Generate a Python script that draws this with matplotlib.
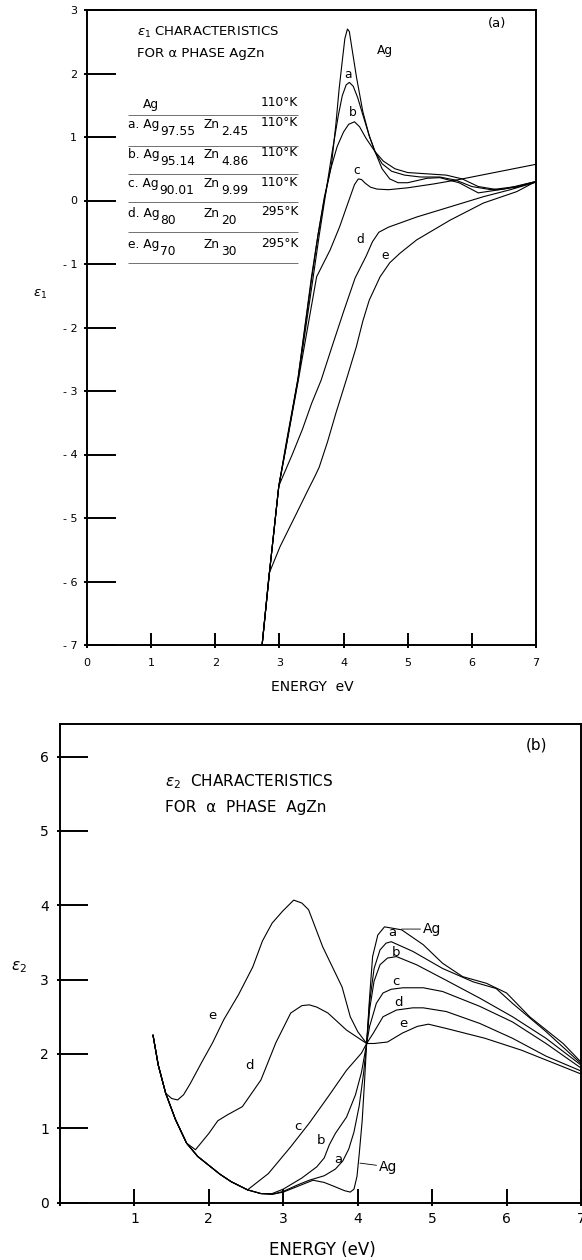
import matplotlib
matplotlib.use("Agg")
import matplotlib.pyplot as plt
from matplotlib.ticker import FixedLocator

plt.rcParams["font.family"] = ["DejaVu Sans"]
plt.rcParams["mathtext.fontset"] = "dejavusans"

# ---- panel (a): epsilon_1 vs energy (eV) ----
e1_ag_x = [2.73, 2.84, 2.99, 3.10, 3.29, 3.50, 3.60, 3.70, 3.81, 3.88, 3.93, 3.98, 4.02, 4.06,
           4.09, 4.13, 4.20, 4.30, 4.40, 4.49, 4.60, 4.72, 4.85, 5.00, 5.30, 5.50, 5.80, 6.10, 6.50, 7.00]
e1_ag_y = [-7.0, -5.9, -4.5, -3.9, -2.8, -1.25, -0.55, 0.05, 0.55, 1.2, 1.75, 2.2, 2.55, 2.70,
           2.66, 2.40, 1.95, 1.40, 1.02, 0.77, 0.50, 0.34, 0.28, 0.28, 0.35, 0.36, 0.28, 0.12, 0.18, 0.30]

e1_a_x = [2.73, 2.84, 2.99, 3.10, 3.29, 3.52, 3.62, 3.72, 3.82, 3.92, 3.98, 4.04, 4.09, 4.15,
          4.22, 4.30, 4.40, 4.49, 4.60, 4.75, 4.95, 5.20, 5.50, 5.75, 6.00, 6.30, 6.70, 7.00]
e1_a_y = [-7.0, -5.9, -4.5, -3.88, -2.83, -1.25, -0.55, 0.10, 0.75, 1.35, 1.65, 1.82, 1.86, 1.80,
          1.62, 1.35, 1.02, 0.77, 0.58, 0.46, 0.40, 0.37, 0.37, 0.32, 0.22, 0.17, 0.22, 0.30]

e1_b_x = [2.73, 2.84, 2.99, 3.10, 3.29, 3.50, 3.60, 3.70, 3.80, 3.90, 4.00, 4.08, 4.17, 4.25,
          4.35, 4.49, 4.62, 4.80, 5.00, 5.30, 5.60, 5.85, 6.10, 6.40, 6.70, 7.00]
e1_b_y = [-7.0, -5.9, -4.5, -3.85, -2.8, -1.2, -0.55, 0.02, 0.5, 0.85, 1.08, 1.20, 1.24, 1.16,
          0.98, 0.77, 0.62, 0.50, 0.44, 0.42, 0.40, 0.34, 0.22, 0.17, 0.21, 0.29]

e1_c_x = [2.73, 2.84, 2.99, 3.11, 3.30, 3.58, 3.79, 3.94, 4.03, 4.10, 4.17, 4.23, 4.28, 4.34,
          4.42, 4.52, 4.70, 5.00, 5.40, 5.80, 6.20, 6.60, 7.00]
e1_c_y = [-7.0, -5.9, -4.5, -3.85, -2.8, -1.2, -0.78, -0.41, -0.15, 0.05, 0.25, 0.34, 0.33, 0.27,
          0.21, 0.18, 0.17, 0.20, 0.26, 0.33, 0.41, 0.49, 0.57]

e1_d_x = [2.73, 2.84, 2.99, 3.03, 3.20, 3.36, 3.50, 3.65, 3.82, 4.00, 4.18, 4.35, 4.45, 4.55,
          4.70, 5.14, 5.66, 6.18, 6.60, 7.00]
e1_d_y = [-7.0, -5.9, -4.5, -4.4, -4.0, -3.6, -3.2, -2.83, -2.3, -1.75, -1.22, -0.88, -0.65, -0.50,
          -0.42, -0.26, -0.10, 0.06, 0.17, 0.29]

e1_e_x = [2.73, 2.84, 3.01, 3.27, 3.45, 3.55, 3.62, 3.75, 3.88, 4.05, 4.20, 4.30, 4.40, 4.57,
          4.72, 4.88, 5.14, 5.66, 6.18, 6.70, 7.00]
e1_e_y = [-7.0, -5.87, -5.45, -4.92, -4.55, -4.35, -4.2, -3.8, -3.35, -2.8, -2.30, -1.9, -1.57, -1.2,
          -0.98, -0.83, -0.62, -0.31, -0.04, 0.14, 0.30]

# ---- panel (b): epsilon_2 vs energy (eV) ----
drude_x = [1.25, 1.32, 1.42, 1.55, 1.70, 1.85, 2.00, 2.15, 2.30, 2.52]
drude_y = [2.25, 1.85, 1.47, 1.12, 0.80, 0.62, 0.50, 0.38, 0.28, 0.17]

e2_ag_x = drude_x + [2.70, 2.85, 3.00, 3.20, 3.40, 3.55, 3.70, 3.82, 3.90, 3.95, 3.99, 4.02, 4.06,
                     4.09, 4.12, 4.16, 4.20, 4.27, 4.36, 4.59, 4.88, 5.14, 5.41, 5.73, 6.00, 6.31,
                     6.76, 7.00]
e2_ag_y = drude_y + [0.12, 0.11, 0.14, 0.22, 0.30, 0.27, 0.21, 0.16, 0.14, 0.18, 0.35, 0.65, 1.10,
                     1.60, 2.14, 2.77, 3.31, 3.60, 3.71, 3.67, 3.47, 3.22, 3.04, 2.95, 2.82, 2.50,
                     2.14, 1.89]

e2_a_x = drude_x + [2.70, 2.85, 3.00, 3.20, 3.35, 3.55, 3.70, 3.80, 3.88, 3.95, 4.02, 4.08, 4.12,
                    4.16, 4.22, 4.30, 4.38, 4.45, 4.74, 5.14, 5.55, 5.86, 6.08, 6.53, 7.00]
e2_a_y = drude_y + [0.12, 0.11, 0.15, 0.24, 0.30, 0.36, 0.45, 0.56, 0.72, 0.95, 1.30, 1.75, 2.14,
                    2.70, 3.15, 3.40, 3.49, 3.51, 3.38, 3.15, 2.97, 2.88, 2.68, 2.30, 1.87]

e2_b_x = drude_x + [2.70, 2.85, 3.00, 3.25, 3.45, 3.55, 3.62, 3.70, 3.85, 3.97, 4.05, 4.12, 4.16,
                    4.22, 4.30, 4.40, 4.52, 4.79, 5.19, 5.64, 6.08, 6.53, 7.00]
e2_b_y = drude_y + [0.12, 0.12, 0.18, 0.33, 0.48, 0.60, 0.78, 0.93, 1.15, 1.45, 1.75, 2.14, 2.60,
                    2.98, 3.20, 3.29, 3.31, 3.20, 2.99, 2.75, 2.50, 2.21, 1.85]

e2_c_x = drude_x + [2.80, 3.10, 3.35, 3.60, 3.85, 4.05, 4.12, 4.16, 4.25, 4.34, 4.45, 4.61, 4.88,
                    5.14, 5.64, 6.08, 6.53, 7.00]
e2_c_y = drude_y + [0.39, 0.75, 1.07, 1.42, 1.78, 2.01, 2.14, 2.37, 2.68, 2.82, 2.87, 2.89, 2.89,
                    2.84, 2.64, 2.43, 2.14, 1.81]

e2_d_x = drude_x[:5] + [1.82, 2.00, 2.12, 2.25, 2.45, 2.70, 2.90, 3.10, 3.25, 3.35, 3.45, 3.60,
                        3.85, 4.00, 4.12, 4.21, 4.34, 4.52, 4.74, 4.88, 5.19, 5.64, 6.08, 6.53, 7.00]
e2_d_y = drude_y[:5] + [0.71, 0.93, 1.10, 1.18, 1.29, 1.65, 2.15, 2.55, 2.65, 2.66, 2.63, 2.55,
                        2.32, 2.22, 2.14, 2.28, 2.50, 2.59, 2.62, 2.62, 2.57, 2.41, 2.21, 1.97, 1.77]

e2_e_x = drude_x[:3] + [1.50, 1.58, 1.66, 1.75, 1.90, 2.05, 2.20, 2.40, 2.59, 2.72, 2.85, 2.99,
                        3.14, 3.25, 3.34, 3.53, 3.79, 3.90, 4.00, 4.12, 4.22, 4.40, 4.60, 4.80,
                        4.95, 5.20, 5.71, 6.20, 7.00]
e2_e_y = drude_y[:3] + [1.40, 1.38, 1.45, 1.60, 1.88, 2.15, 2.46, 2.80, 3.17, 3.52, 3.76, 3.92,
                        4.07, 4.03, 3.94, 3.44, 2.90, 2.50, 2.30, 2.14, 2.14, 2.16, 2.28, 2.37,
                        2.40, 2.34, 2.21, 2.05, 1.73]

# legend table of panel (a)
row_prefix = ["a.", "b.", "c.", "d.", "e."]
row_ag_sub = ["97.55", "95.14", "90.01", "80", "70"]
row_zn_sub = ["2.45", "4.86", "9.99", "20", "30"]
row_temp = ["110°K", "110°K", "110°K", "295°K", "295°K"]


def style_axes(ax, ylen, xlen, fs, ypad, xpad):
    for s in ax.spines.values():
        s.set_linewidth(1.4)
    ax.xaxis.set_minor_locator(FixedLocator(ax.get_xticks()))
    ax.yaxis.set_minor_locator(FixedLocator(ax.get_yticks()))
    ax.xaxis.remove_overlapping_locs = False
    ax.yaxis.remove_overlapping_locs = False
    ax.tick_params(axis="y", which="major", direction="in", length=ylen, width=1.4,
                   labelsize=fs, pad=ypad)
    ax.tick_params(axis="x", which="major", direction="in", length=xlen, width=1.4,
                   labelsize=fs, pad=xpad)
    ax.tick_params(which="minor", direction="out", length=2.5, width=1.4)


fig = plt.figure(figsize=(5.82, 12.6), dpi=100)
ax1 = fig.add_axes([87 / 582, 1 - 645 / 1260, 449 / 582, 635 / 1260])
ax2 = fig.add_axes([60 / 582, 1 - 1202.5 / 1260, 521 / 582, 478.5 / 1260])

lw = 0.8
# panel (a)
for xs, ys in [(e1_ag_x, e1_ag_y), (e1_a_x, e1_a_y), (e1_b_x, e1_b_y),
               (e1_c_x, e1_c_y), (e1_d_x, e1_d_y), (e1_e_x, e1_e_y)]:
    ax1.plot(xs, ys, color="black", lw=lw)
ax1.set_xlim(0, 7)
ax1.set_ylim(-7, 3)
ax1.set_xticks(range(0, 8))
ax1.set_yticks(range(-7, 4))
ax1.set_yticklabels([f"- {abs(v)}" if v < 0 else str(v) for v in range(-7, 4)])
style_axes(ax1, ylen=21, xlen=8.5, fs=8, ypad=7, xpad=9)

fs_a = 8.8
ax1.text(0.78, 2.64, r"$\epsilon_1$ CHARACTERISTICS", fontsize=9.5, va="center")
ax1.text(0.78, 2.32, "FOR α PHASE AgZn", fontsize=9.5, va="center")
ax1.text(6.39, 2.79, "(a)", fontsize=9.5, va="center", ha="center")
ax1.text(0.87, 1.515, "Ag", fontsize=fs_a, va="center")
ax1.text(3.29, 1.54, "110°K", fontsize=fs_a, va="center", ha="right")
row_y = [1.20, 0.73, 0.26, -0.20, -0.70]
for i in range(5):
    y = row_y[i]
    t1 = ax1.text(0.64, y, f"{row_prefix[i]} Ag", fontsize=fs_a, va="center")
    ax1.annotate(row_ag_sub[i], xy=(1, 0.5), xycoords=t1, xytext=(0.5, -5),
                 textcoords="offset points", fontsize=fs_a, va="center")
    t2 = ax1.text(1.82, y, "Zn", fontsize=fs_a, va="center")
    ax1.annotate(row_zn_sub[i], xy=(1, 0.5), xycoords=t2, xytext=(1.0, -5),
                 textcoords="offset points", fontsize=fs_a, va="center")
    ax1.text(3.29, y + 0.03, row_temp[i], fontsize=fs_a, va="center", ha="right")
ax1.hlines([1.35, 0.86, 0.42, -0.02, -0.50, -0.99], 0.64, 3.29, color="0.35", lw=0.6)

for lab, x, y in [("Ag", 4.65, 2.37), ("a", 4.07, 1.98), ("b", 4.15, 1.38),
                  ("c", 4.20, 0.47), ("d", 4.26, -0.61), ("e", 4.65, -0.86)]:
    ax1.text(x, y, lab, fontsize=fs_a, ha="center", va="center")

# panel (b)
for xs, ys in [(e2_ag_x, e2_ag_y), (e2_a_x, e2_a_y), (e2_b_x, e2_b_y),
               (e2_c_x, e2_c_y), (e2_d_x, e2_d_y), (e2_e_x, e2_e_y)]:
    ax2.plot(xs, ys, color="black", lw=lw)
ax2.set_xlim(0, 7)
ax2.set_ylim(0, 6.44)
ax2.set_xticks(range(0, 8))
ax2.set_xticklabels([""] + [str(v) for v in range(1, 8)])
ax2.set_yticks(range(0, 7))
style_axes(ax2, ylen=20, xlen=10, fs=10, ypad=8, xpad=7)

fs_b = 9.5
ax2.text(1.41, 5.66, r"$\epsilon_2$  CHARACTERISTICS", fontsize=11, va="center")
ax2.text(1.41, 5.31, "FOR  α  PHASE  AgZn", fontsize=11, va="center")
ax2.text(6.4, 6.16, "(b)", fontsize=11, va="center", ha="center")
for lab, x, y in [("a", 4.46, 3.64), ("b", 4.51, 3.37), ("c", 4.52, 2.97), ("d", 4.55, 2.69),
                  ("e", 4.62, 2.41), ("e", 2.05, 2.52), ("d", 2.55, 1.84), ("c", 3.20, 1.02),
                  ("b", 3.50, 0.83), ("a", 3.74, 0.58)]:
    ax2.text(x, y, lab, fontsize=fs_b, ha="center", va="center")
ax2.annotate("Ag", xy=(4.59, 3.68), xytext=(4.88, 3.68), fontsize=10, va="center",
             arrowprops=dict(arrowstyle="-", lw=0.6, shrinkA=0, shrinkB=0))
ax2.annotate("Ag", xy=(4.03, 0.53), xytext=(4.29, 0.48), fontsize=10, va="center",
             arrowprops=dict(arrowstyle="-", lw=0.6, shrinkA=0, shrinkB=0))

fig.text(40 / 582, 1 - 294 / 1260, r"$\epsilon_1$", fontsize=9.5, ha="center", va="center")
fig.text(19 / 582, 1 - 967 / 1260, r"$\epsilon_2$", fontsize=11, ha="center", va="center")
fig.text(312 / 582, 1 - 687 / 1260, "ENERGY  eV", fontsize=10, ha="center", va="center")
fig.text(322 / 582, 1 - 1250 / 1260, "ENERGY (eV)", fontsize=12, ha="center", va="center")

fig.savefig("out.png", dpi=100)
